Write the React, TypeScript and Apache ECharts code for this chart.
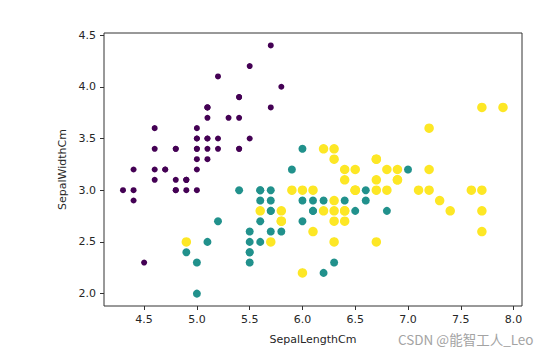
import React, { useEffect, useRef } from "react";
import * as echarts from "echarts";

const setosaLength = [5.1,4.9,4.7,4.6,5.0,5.4,4.6,5.0,4.4,4.9,5.4,4.8,4.8,4.3,5.8,5.7,5.4,5.1,5.7,5.1,5.4,5.1,4.6,5.1,4.8,5.0,5.0,5.2,5.2,4.7,4.8,5.4,5.2,5.5,4.9,5.0,5.5,4.9,4.4,5.1,5.0,4.5,4.4,5.0,5.1,4.8,5.1,4.6,5.3,5.0];
const setosaWidth = [3.5,3.0,3.2,3.1,3.6,3.9,3.4,3.4,2.9,3.1,3.7,3.4,3.0,3.0,4.0,4.4,3.9,3.5,3.8,3.8,3.4,3.7,3.6,3.3,3.4,3.0,3.4,3.5,3.4,3.2,3.1,3.4,4.1,4.2,3.1,3.2,3.5,3.1,3.0,3.4,3.5,2.3,3.2,3.5,3.8,3.0,3.8,3.2,3.7,3.3];

const versicolorLength = [7.0,6.4,6.9,5.5,6.5,5.7,6.3,4.9,6.6,5.2,5.0,5.9,6.0,6.1,5.6,6.7,5.6,5.8,6.2,5.6,5.9,6.1,6.3,6.1,6.4,6.6,6.8,6.7,6.0,5.7,5.5,5.5,5.8,6.0,5.4,6.0,6.7,6.3,5.6,5.5,5.5,6.1,5.8,5.0,5.6,5.7,5.7,6.2,5.1,5.7];
const versicolorWidth = [3.2,3.2,3.1,2.3,2.8,2.8,3.3,2.4,2.9,2.7,2.0,3.0,2.2,2.9,2.9,3.1,3.0,2.7,2.2,2.5,3.2,2.8,2.5,2.8,2.9,3.0,2.8,3.0,2.9,2.6,2.4,2.4,2.7,2.7,3.0,3.4,3.1,2.3,3.0,2.5,2.6,3.0,2.6,2.3,2.7,3.0,2.9,2.9,2.5,2.8];

const virginicaLength = [6.3,5.8,7.1,6.3,6.5,7.6,4.9,7.3,6.7,7.2,6.5,6.4,6.8,5.7,5.8,6.4,6.5,7.7,7.7,6.0,6.9,5.6,7.7,6.3,6.7,7.2,6.2,6.1,6.4,7.2,7.4,7.9,6.4,6.3,6.1,7.7,6.3,6.4,6.0,6.9,6.7,6.9,5.8,6.8,6.7,6.7,6.3,6.5,6.2,5.9];
const virginicaWidth = [3.3,2.7,3.0,2.9,3.0,3.0,2.5,2.9,2.5,3.6,3.2,2.7,3.0,2.5,2.8,3.2,3.0,3.8,2.6,2.2,3.2,2.8,2.8,2.7,3.3,3.2,2.8,3.0,2.8,3.0,2.8,3.8,2.8,2.8,2.6,3.0,3.4,3.1,3.0,3.1,3.1,3.1,2.7,3.2,3.3,3.0,2.5,3.0,3.4,3.0];

const xTicks = [4.5, 5.0, 5.5, 6.0, 6.5, 7.0, 7.5, 8.0];
const yTicks = [2.0, 2.5, 3.0, 3.5, 4.0, 4.5];

const zip = (xs: number[], ys: number[]) => xs.map((x, i) => [x, ys[i]]);

export default function App() {
  const ref = useRef<HTMLDivElement>(null);
  useEffect(() => {
    if (!ref.current) return;
    const chart = echarts.init(ref.current, undefined, { renderer: "svg" });
    const font = "DejaVu Sans";
    const textColor = "#262626";
    chart.setOption({
      animation: false,
      grid: {
        left: 104,
        top: 33,
        width: 418,
        height: 273,
        show: true,
        borderColor: "#333",
        borderWidth: 1,
        backgroundColor: "#fff",
      },
      xAxis: {
        type: "value",
        min: 4.12,
        max: 8.08,
        name: "SepalLengthCm",
        nameLocation: "middle",
        nameGap: 28,
        nameTextStyle: { fontFamily: font, fontSize: 11, color: textColor },
        axisLine: { show: false },
        splitLine: { show: false },
        axisTick: { show: true, length: 4, customValues: xTicks, lineStyle: { color: "#333" } },
        axisLabel: {
          customValues: xTicks,
          margin: 8,
          fontFamily: font,
          fontSize: 11,
          color: textColor,
          formatter: (v: number) => v.toFixed(1),
        },
      },
      yAxis: {
        type: "value",
        min: 1.88,
        max: 4.52,
        name: "SepalWidthCm",
        nameLocation: "middle",
        nameGap: 35,
        nameTextStyle: { fontFamily: font, fontSize: 11, color: textColor },
        axisLine: { show: false },
        splitLine: { show: false },
        axisTick: { show: true, length: 4, customValues: yTicks, lineStyle: { color: "#333" } },
        axisLabel: {
          customValues: yTicks,
          margin: 8,
          fontFamily: font,
          fontSize: 11,
          color: textColor,
          formatter: (v: number) => v.toFixed(1),
        },
      },
      series: [
        {
          type: "scatter",
          data: zip(setosaLength, setosaWidth),
          symbolSize: 6,
          itemStyle: { color: "#440154", opacity: 1 },
        },
        {
          type: "scatter",
          data: zip(versicolorLength, versicolorWidth),
          symbolSize: 8,
          itemStyle: { color: "#21918c", opacity: 1 },
        },
        {
          type: "scatter",
          data: zip(virginicaLength, virginicaWidth),
          symbolSize: 9.5,
          itemStyle: { color: "#fde725", opacity: 1 },
        },
      ],
      graphic: [
        {
          type: "text",
          left: 398,
          top: 332,
          style: {
            text: "CSDN @能智工人_Leo",
            fontFamily: "Noto Sans CJK SC",
            fontSize: 13.5,
            fill: "#a3a3a3",
          },
        },
      ],
    });
    return () => chart.dispose();
  }, []);
  return (
    <div
      ref={ref}
      style={{ position: "fixed", left: 0, top: 0, width: 560, height: 355, background: "#fff" }}
    />
  );
}
